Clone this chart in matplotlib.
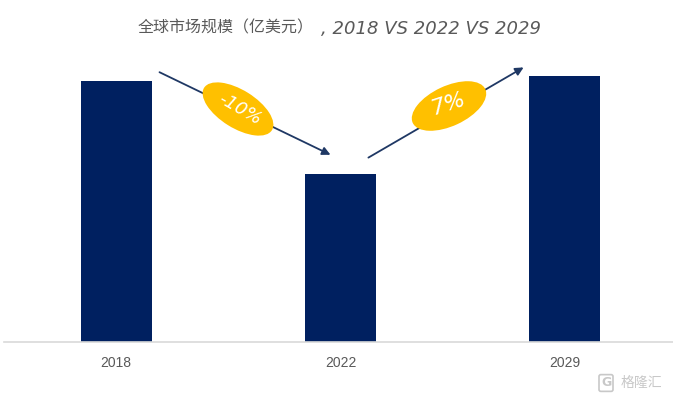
import matplotlib
matplotlib.use("Agg")
import matplotlib.pyplot as plt
from matplotlib.patches import Ellipse
from matplotlib.transforms import Affine2D

# ---- data ----
years = ["2018", "2022", "2029"]
values = [261, 168, 266]          # market size (relative)
growth_labels = ["-10%", "7%"]    # CAGR between periods
title_cn = "全球市场规模（亿美元）"
title_en = ", 2018 VS 2022 VS 2029"

W, H, DPI = 673, 398, 100
fig = plt.figure(figsize=(W / DPI, H / DPI), dpi=DPI)
fig.patch.set_facecolor("white")

# axes: baseline at y=342px (from top), top at 50px
ax = fig.add_axes([4 / W, (H - 342) / H, 1.0, (342 - 50) / H])
x = list(range(len(years)))
ax.bar(x, values, width=0.316, color="#002060", zorder=2)
ax.set_xlim(-0.5, 2.5)
ax.set_ylim(0, 292)
ax.set_xticks(x)
ax.set_xticklabels(years, fontsize=10, color="#595959",
                   family=["Liberation Sans Narrow", "Liberation Sans", "DejaVu Sans"])
ax.tick_params(axis="x", length=0, pad=10)
ax.set_yticks([])
for s in ["top", "right", "left"]:
    ax.spines[s].set_visible(False)
ax.spines["bottom"].set_color("#d9d9d9")
ax.spines["bottom"].set_linewidth(1.2)

# pixel transform (origin bottom-left of figure)
pxt = Affine2D().scale(1 / DPI) + fig.dpi_scale_trans

def P(xp, yp):
    return (xp, H - yp)

# arrows
arrow_kw = dict(arrowstyle="-|>", color="#1F3864", lw=1.3, mutation_scale=12)
ax.annotate("", xy=P(333, 156), xytext=P(157, 71), xycoords=pxt, textcoords=pxt,
            arrowprops=arrow_kw, annotation_clip=False)
ax.annotate("", xy=P(526, 66), xytext=P(366, 159), xycoords=pxt, textcoords=pxt,
            arrowprops=arrow_kw, annotation_clip=False)

# ellipses with growth labels
e1 = Ellipse(P(238, 109), 80, 38, angle=-32, transform=pxt, facecolor="#FFC000",
             edgecolor="none", zorder=5)
e2 = Ellipse(P(449, 106), 80, 40, angle=25, transform=pxt, facecolor="#FFC000",
             edgecolor="none", zorder=5)
fig.add_artist(e1)
fig.add_artist(e2)
fig.text(*P(240, 109), growth_labels[0], transform=pxt, color="white", fontsize=13,
         rotation=-30, ha="center", va="center", zorder=6, style="italic",
         family="DejaVu Sans")
fig.text(*P(449, 104), growth_labels[1], transform=pxt, color="white", fontsize=16,
         rotation=18, ha="center", va="center", zorder=6, style="italic",
         family="DejaVu Sans")

# title
fig.text(*P(138, 28), title_cn, transform=pxt, fontsize=11.5, color="#595959",
         family=["Noto Sans CJK SC", "DejaVu Sans"], ha="left", va="center")
fig.text(*P(321, 29), title_en, transform=pxt, fontsize=13, color="#595959",
         family=["DejaVu Sans"], style="italic", ha="left", va="center")

# watermark
fig.text(*P(606, 383), "G", transform=pxt, fontsize=9, color="#c8c8c8", weight="bold",
         ha="center", va="center",
         bbox=dict(boxstyle="round,pad=0.15", fc="none", ec="#c8c8c8", lw=1.2))
fig.text(*P(641, 383), "格隆汇", transform=pxt, fontsize=10, color="#c8c8c8",
         family=["Noto Sans CJK SC", "DejaVu Sans"], ha="center", va="center")

fig.savefig("out.png", dpi=DPI)
